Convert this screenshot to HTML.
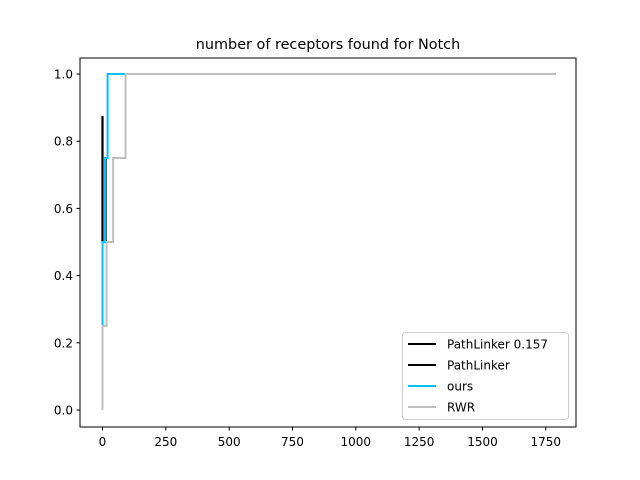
<!DOCTYPE html>
<html><head><meta charset="utf-8"><style>
body{margin:0;background:#fff}
svg{display:block;font-family:"DejaVu Sans","Liberation Sans",sans-serif}
</style></head><body>
<svg id="c" width="640" height="480">
<rect width="640" height="480" fill="#fff"/>
<text x="328" y="49" font-size="14.4" text-anchor="middle">number of receptors found for Notch</text>
<g id="plot"></g>
<rect x="80" y="58" width="496" height="369" fill="none" stroke="#000" stroke-width="1"/>
<g id="ticks"></g>
<g>
<rect x="402.5" y="332.5" width="166" height="87" rx="3" fill="#fff" fill-opacity="0.8" stroke="#ccc"/>
<g id="legend-items"></g>
</g>
</svg>
<script>
const xTicks=[0,250,500,750,1000,1250,1500,1750];
const yTicks=[0.0,0.2,0.4,0.6,0.8,1.0];
const seriesNames=["PathLinker 0.157","PathLinker","ours","RWR"];
const seriesColors=["#000","#000","#00bfff","#bfbfbf"];
const pl157X=[0,0];
const pl157Y=[0.5,0.875];
const plX=[0,12,12];
const plY=[0.5,0.5,0.75];
const oursX=[0,0,10,10,20,20,1790];
const oursY=[0.25,0.5,0.5,0.75,0.75,1.0,1.0];
const rwrX=[0,0,16,16,42,42,91,91,1790];
const rwrY=[0,0.25,0.25,0.5,0.5,0.75,0.75,1.0,1.0];
const seriesX=[pl157X,plX,oursX,rwrX];
const seriesY=[pl157Y,plY,oursY,rwrY];

const sx=v=>102.5+v*(443.3/1750);
const sy=v=>410+(-336)*v;
const NS="http://www.w3.org/2000/svg";
const plot=document.getElementById('plot');
seriesX.forEach((xs,i)=>{
  const p=document.createElementNS(NS,'polyline');
  p.setAttribute('points',xs.map((x,j)=>sx(x)+','+sy(seriesY[i][j])).join(' '));
  p.setAttribute('fill','none');
  p.setAttribute('stroke',seriesColors[i]);
  p.setAttribute('stroke-width',i<2?'2.2':'2');
  
  
  plot.appendChild(p);
});
const t=document.getElementById('ticks');
xTicks.forEach(v=>{
  const x=sx(v);
  const l=document.createElementNS(NS,'line');
  l.setAttribute('x1',x);l.setAttribute('x2',x);l.setAttribute('y1',427);l.setAttribute('y2',430.5);l.setAttribute('stroke','#000');
  
  
  t.appendChild(l);
  const tx=document.createElementNS(NS,'text');
  tx.setAttribute('x',x);tx.setAttribute('y',446);tx.setAttribute('font-size','12');tx.setAttribute('text-anchor','middle');
  tx.textContent=v;
  
  
  t.appendChild(tx);
});
yTicks.forEach(v=>{
  const y=sy(v);
  const l=document.createElementNS(NS,'line');
  l.setAttribute('x1',76.5);l.setAttribute('x2',80);l.setAttribute('y1',y);l.setAttribute('y2',y);l.setAttribute('stroke','#000');
  
  
  t.appendChild(l);
  const tx=document.createElementNS(NS,'text');
  tx.setAttribute('x',73);tx.setAttribute('y',y+4.5);tx.setAttribute('font-size','12');tx.setAttribute('text-anchor','end');
  tx.textContent=v.toFixed(1);
  
  
  t.appendChild(tx);
});
const lg=document.getElementById('legend-items');
seriesNames.forEach((n,i)=>{
  const y=344+i*21;
  const l=document.createElementNS(NS,'line');
  l.setAttribute('x1',408);l.setAttribute('x2',436);l.setAttribute('y1',y);l.setAttribute('y2',y);
  l.setAttribute('stroke',seriesColors[i]);l.setAttribute('stroke-width','2');
  
  
  lg.appendChild(l);
  const tx=document.createElementNS(NS,'text');
  tx.setAttribute('x',447);tx.setAttribute('y',y+4.5);tx.setAttribute('font-size','12');
  tx.textContent=n;
  
  
  lg.appendChild(tx);
});
</script>
</body></html>
